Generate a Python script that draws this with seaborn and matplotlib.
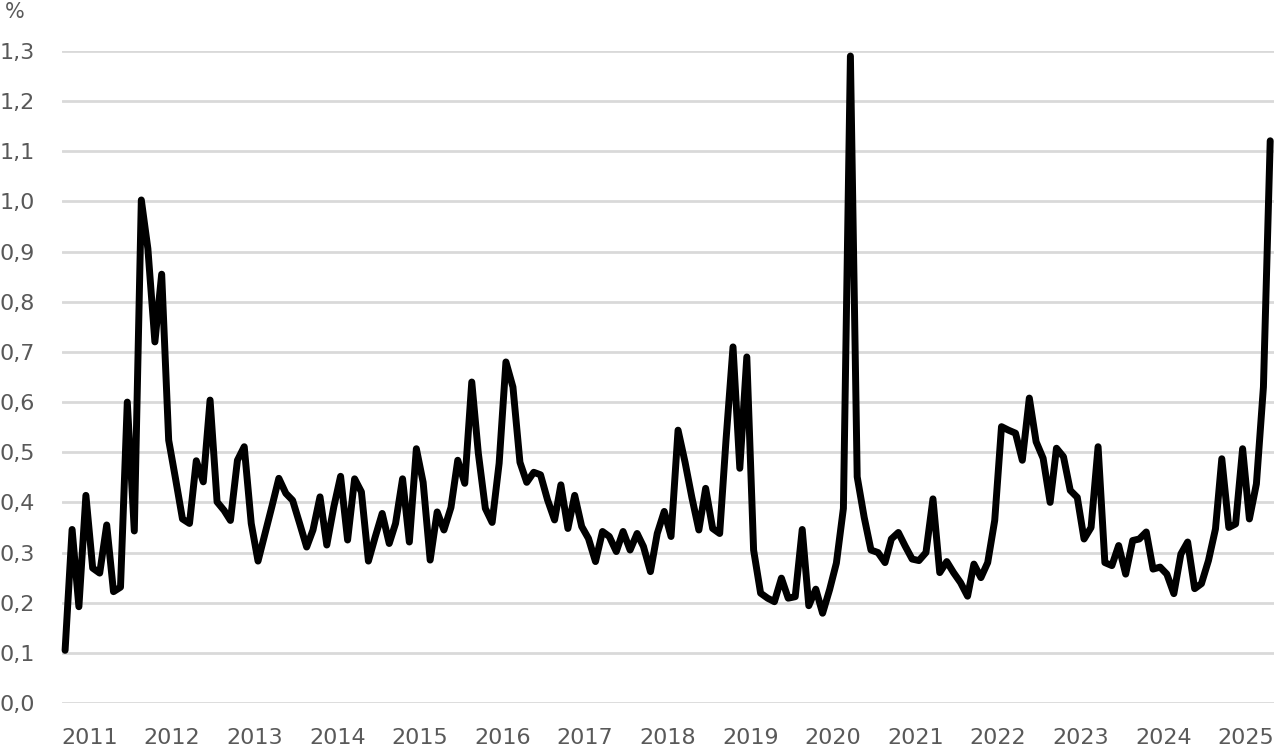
import seaborn as sns
import pandas as pd
import matplotlib.pyplot as plt
from matplotlib.ticker import FuncFormatter

# monthly values in percent (Mar 2011 -> Oct 2025)
start_month = '2011-03-01'
values = [
    0.105, 0.346, 0.192, 0.414, 0.269, 0.259, 0.355, 0.222, 0.231, 0.600,
    0.343, 1.003, 0.906, 0.720, 0.855, 0.524, 0.448, 0.367, 0.358, 0.483,
    0.441, 0.604, 0.401, 0.384, 0.364, 0.484, 0.511, 0.358, 0.283, 0.338,
    0.393, 0.448, 0.418, 0.404, 0.358, 0.311, 0.345, 0.411, 0.315, 0.391,
    0.452, 0.325, 0.447, 0.421, 0.283, 0.331, 0.378, 0.318, 0.358, 0.447,
    0.321, 0.507, 0.440, 0.285, 0.381, 0.345, 0.390, 0.484, 0.438, 0.640,
    0.498, 0.388, 0.360, 0.478, 0.680, 0.630, 0.480, 0.440, 0.460, 0.455,
    0.405, 0.365, 0.435, 0.348, 0.414, 0.352, 0.328, 0.282, 0.342, 0.332,
    0.302, 0.342, 0.305, 0.338, 0.312, 0.262, 0.338, 0.382, 0.332, 0.544,
    0.480, 0.410, 0.345, 0.428, 0.348, 0.338, 0.524, 0.710, 0.468, 0.690,
    0.305, 0.219, 0.209, 0.202, 0.249, 0.209, 0.212, 0.346, 0.194, 0.227,
    0.179, 0.226, 0.279, 0.388, 1.290, 0.451, 0.370, 0.305, 0.300, 0.280,
    0.327, 0.340, 0.313, 0.287, 0.284, 0.300, 0.407, 0.260, 0.282, 0.260,
    0.240, 0.213, 0.277, 0.250, 0.280, 0.364, 0.551, 0.544, 0.538, 0.484,
    0.608, 0.521, 0.488, 0.400, 0.508, 0.491, 0.424, 0.410, 0.327, 0.350,
    0.511, 0.280, 0.274, 0.314, 0.257, 0.324, 0.327, 0.341, 0.267, 0.271,
    0.257, 0.218, 0.297, 0.321, 0.228, 0.238, 0.284, 0.347, 0.487, 0.350,
    0.357, 0.507, 0.367, 0.437, 0.630, 1.121,
]
years = list(range(2011, 2026))
y_ticks = [i / 10 for i in range(14)]

TEXT_GREY = '#595959'
GRID_GREY = '#d9d9d9'


def run():
    sns.set_style('white')
    plt.rcParams['font.family'] = ['DejaVu Sans']

    months = pd.date_range(start_month, periods=len(values), freq='MS')
    df = pd.DataFrame({'month': months, 'value': values})

    fig = plt.figure(figsize=(12.8, 7.49), dpi=100)
    ax = fig.add_axes([0.0482, 0.0614, 0.9468, 0.8705])

    sns.lineplot(data=df, x='month', y='value', color='black', linewidth=5, ax=ax)
    ax.lines[0].set_solid_joinstyle('round')
    ax.lines[0].set_clip_on(False)

    ax.set_ylim(0, 1.3)
    ax.set_yticks(y_ticks)
    ax.yaxis.set_major_formatter(FuncFormatter(lambda v, p: f'{v:.1f}'.replace('.', ',')))

    # year labels sit in the middle of each year
    ax.set_xticks([pd.Timestamp(f'{y}-06-16') for y in years])
    ax.set_xticklabels([str(y) for y in years])
    ax.set_xlim(months[0] - pd.Timedelta(days=15), months[-1] + pd.Timedelta(days=15))

    ax.grid(axis='y', color=GRID_GREY, linewidth=2)
    ax.grid(axis='x', visible=False)
    ax.set_axisbelow(True)
    for s in ax.spines.values():
        s.set_visible(False)
    ax.tick_params(axis='both', length=0, labelsize=16, labelcolor=TEXT_GREY)
    ax.tick_params(axis='x', pad=18)
    ax.tick_params(axis='y', pad=19)
    ax.set_xlabel('')
    ax.set_ylabel('')

    fig.text(0.004, 0.984, '%', fontsize=15, color=TEXT_GREY, va='center', ha='left')

    fig.savefig('out.png', dpi=100)


if __name__ == "__main__":
    run()
